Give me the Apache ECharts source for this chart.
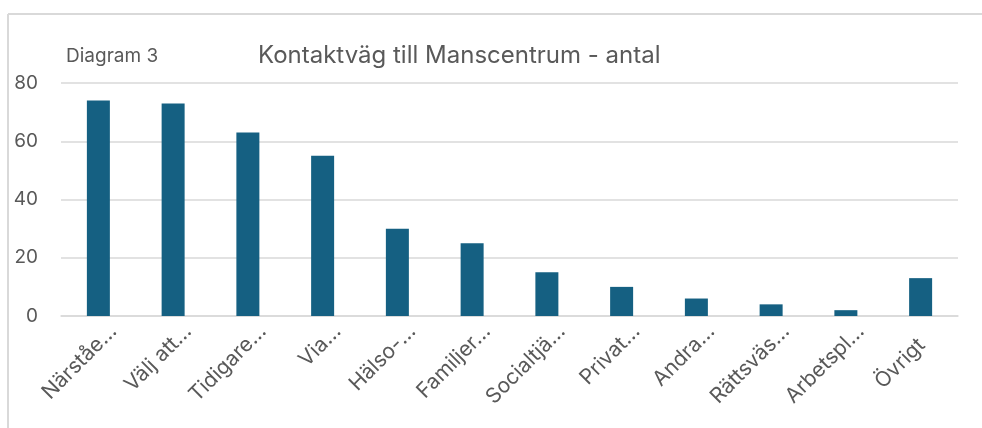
<!DOCTYPE html>
<html>
<head>
<meta charset="utf-8">
<script src="https://cdn.jsdelivr.net/npm/echarts@6/dist/echarts.min.js"></script>
<style>
  html, body { margin: 0; padding: 0; background: #fff; }
  #chart { width: 982px; height: 428px; }
</style>
</head>
<body>
<div id="chart"></div>
<script>
// data
var categories = ['Närståe…', 'Välj att…', 'Tidigare…', 'Via…', 'Hälso-…', 'Familjer…',
  'Socialtjä…', 'Privat…', 'Andra…', 'Rättsväs…', 'Arbetspl…', 'Övrigt'];
var antal = [74, 73, 63, 55, 30, 25, 15, 10, 6, 4, 2, 13];
var yTicks = [0, 20, 40, 60, 80];

var chart = echarts.init(document.getElementById('chart'));
var font = 'Inter, "Open Sans", sans-serif';
var textColor = '#595959';

var option = {
  animation: false,
  title: [{
    text: 'Kontaktväg till Manscentrum - antal',
    left: 258,
    top: 44,
    padding: 0,
    textStyle: { fontFamily: font, fontSize: 24, fontWeight: 'normal', color: textColor }
  }, {
    text: 'Diagram 3',
    left: 66,
    top: 47,
    padding: 0,
    textStyle: { fontFamily: font, fontSize: 19, fontWeight: 'normal', color: textColor }
  }],
  // ram runt diagrammet
  graphic: [
    { type: 'line', shape: { x1: 8, y1: 14, x2: 982, y2: 14 }, style: { stroke: '#d9d9d9', lineWidth: 2 } },
    { type: 'line', shape: { x1: 8, y1: 14, x2: 8, y2: 428 }, style: { stroke: '#d9d9d9', lineWidth: 2 } }
  ],
  grid: { left: 61, right: 24, top: 83, bottom: 112 },
  xAxis: {
    type: 'category',
    data: categories,
    axisLine: { lineStyle: { color: '#d9d9d9', width: 1.5 } },
    axisTick: { show: false },
    axisLabel: { show: false }
  },
  yAxis: {
    type: 'value',
    min: yTicks[0],
    max: yTicks[yTicks.length - 1],
    interval: 20,
    axisLine: { show: false },
    axisTick: { show: false },
    splitLine: { lineStyle: { color: '#d9d9d9', width: 1.5 } },
    axisLabel: { margin: 23, fontFamily: font, fontSize: 19, color: textColor }
  },
  series: [{
    name: 'Antal',
    type: 'bar',
    data: antal,
    barWidth: 23,
    itemStyle: { color: '#156082' }
  }, {
    // snedställda kategorietiketter som i Excel: avkortade etiketter slutar lite längre ut
    type: 'custom',
    silent: true,
    clip: false,
    data: categories.map(function (c, i) { return [i, 0]; }),
    renderItem: function (params, api) {
      var p = api.coord([api.value(0), 0]);
      var label = categories[params.dataIndex];
      var back = label.slice(-1) === '…' ? 0 : 14;
      return {
        type: 'text',
        x: p[0] + 15 - back,
        y: p[1] + 12 + back,
        rotation: Math.PI / 4,
        style: {
          text: label,
          align: 'right',
          verticalAlign: 'middle',
          font: '21px ' + font,
          fill: textColor
        }
      };
    }
  }]
};

chart.setOption(option);
</script>
</body>
</html>
